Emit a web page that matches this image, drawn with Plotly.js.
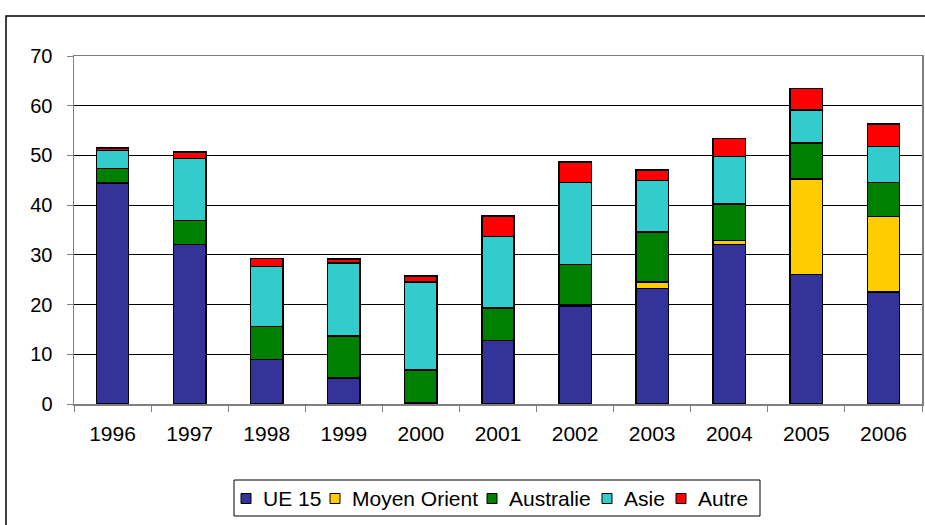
<!DOCTYPE html>
<html>
<head>
<meta charset="utf-8">
<script src="https://cdn.plot.ly/plotly-3.0.1.min.js"></script>
<style>html,body{margin:0;padding:0;background:#fff;}#chart{width:925px;height:525px;}</style>
</head>
<body>
<div id="chart"></div>
<script>
var years = ["1996","1997","1998","1999","2000","2001","2002","2003","2004","2005","2006"];
var ue15 =        [44.5, 32.1, 9.0, 5.2, 0.3, 12.8, 19.6, 23.2, 32.1, 26.1, 22.5];
var moyenOrient = [0,    0,    0,   0,   0,   0,    0.3,  1.3,  0.8,  19.2, 15.2];
var australie =   [2.9,  4.8,  6.6, 8.5, 6.5, 6.5,  8.2,  10.1, 7.3,  7.2,  6.9];
var asie =        [3.6,  12.5, 12.1,14.7,17.7,14.4, 16.5, 10.4, 9.6,  6.6,  7.2];
var autre =       [0.5,  1.3,  1.6, 0.8, 1.2, 4.1,  4.1,  2.1,  3.6,  4.4,  4.5];
var yTicks = [0,10,20,30,40,50,60,70];

var seriesNames = ["UE 15","Moyen Orient","Australie","Asie","Autre"];
var seriesVals = [ue15, moyenOrient, australie, asie, autre];
var colors = ["#333399","#FFCC00","#008000","#33CCCC","#FF0000"];

var traces = seriesNames.map(function(n,i){
  return {
    type:'bar', name:n, x:years, y:seriesVals[i],
    marker:{color:colors[i], line:{color:'#000', width:1.5}},
    width:0.42, showlegend:false
  };
});

// plot-area geometry (pixels)
var W = 925, H = 525, L = 74, R = 3, T = 56, B = 121;
var pw = W - L - R, ph = H - T - B;
function px(x){ return (x - L) / pw; }
function py(y){ return (H - B - y) / ph; }

var shapes = [{
  type:'rect', xref:'paper', yref:'paper',
  x0:px(6), x1:px(960), y0:py(560), y1:py(16),
  line:{color:'#000', width:1.5}, layer:'below'
}, {
  type:'rect', xref:'paper', yref:'paper',
  x0:px(234), x1:px(760), y0:py(516), y1:py(480),
  line:{color:'#000', width:1}, fillcolor:'#fff'
}];
var annotations = [];

// custom legend, built from series names and colours
var legendTextX = [262, 351, 508, 623, 697];
var legendMidY = 498.5;
seriesNames.forEach(function(n,i){
  var sx = legendTextX[i] - 21;
  shapes.push({
    type:'rect', xref:'paper', yref:'paper',
    x0:px(sx), x1:px(sx+10), y0:py(legendMidY+5), y1:py(legendMidY-5),
    fillcolor:colors[i], line:{color:'#000', width:1}
  });
  annotations.push({
    xref:'paper', yref:'paper', x:px(legendTextX[i]-1), y:py(legendMidY),
    xanchor:'left', yanchor:'middle', showarrow:false, text:n,
    font:{size:21, color:'#000'}
  });
});

var layout = {
  width:W, height:H,
  margin:{l:L, r:R, t:T, b:B},
  barmode:'stack',
  paper_bgcolor:'#fff', plot_bgcolor:'#fff',
  font:{family:'Liberation Sans, Arial, sans-serif', size:20, color:'#000'},
  showlegend:false,
  xaxis:{
    type:'category', tickson:'boundaries', ticks:'outside', ticklen:6, tickcolor:'#808080',
    showline:true, linecolor:'#808080', linewidth:1.5, mirror:true,
    showgrid:false, ticklabelstandoff:10, tickfont:{size:21}
  },
  yaxis:{
    range:[0,70], tickvals:yTicks, ticks:'outside', ticklen:6, tickcolor:'#808080',
    showline:true, linecolor:'#808080', linewidth:1.5, mirror:true,
    showgrid:true, gridcolor:'#000', gridwidth:1, zeroline:false,
    ticklabelstandoff:10, tickfont:{size:20}
  },
  shapes:shapes,
  annotations:annotations
};

Plotly.newPlot('chart', traces, layout, {displayModeBar:false, staticPlot:true});
</script>
</body>
</html>
